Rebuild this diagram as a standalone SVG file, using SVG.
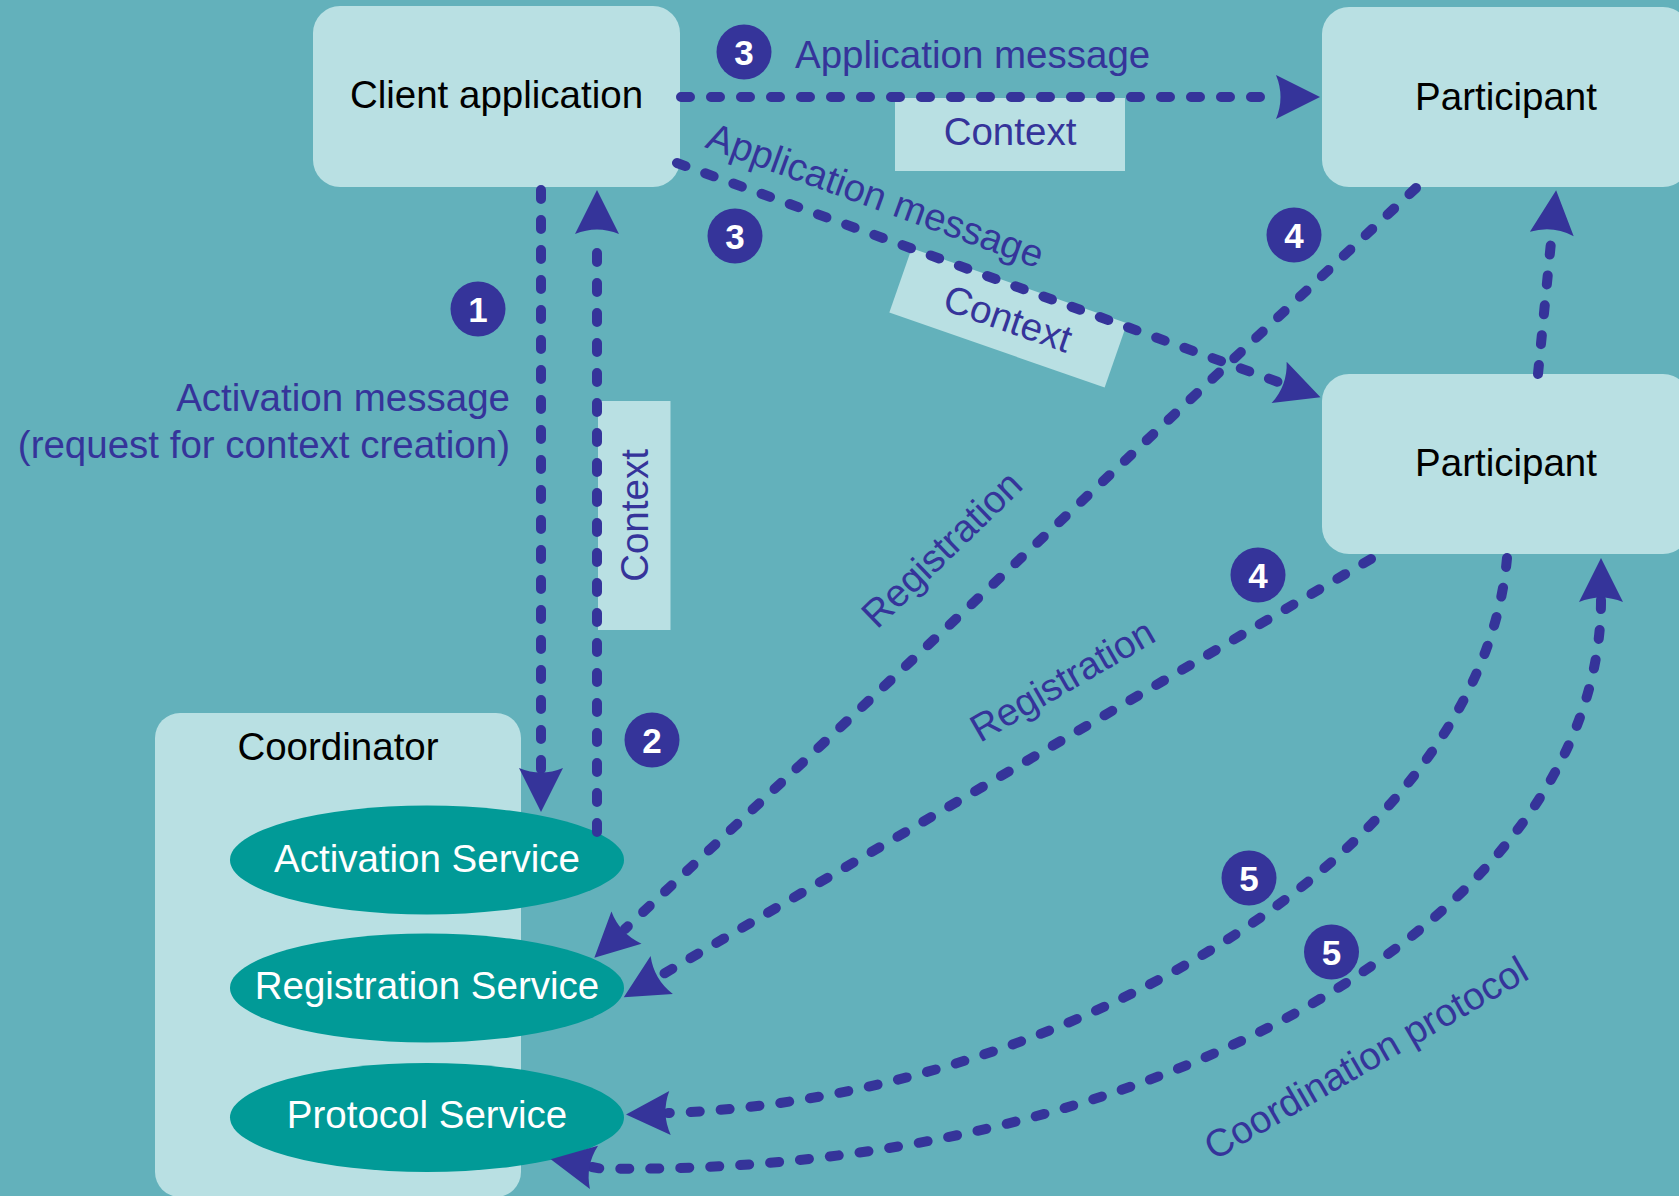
<svg xmlns="http://www.w3.org/2000/svg" width="1679" height="1196" viewBox="0 0 1679 1196">
<style>
.box{fill:#B9E0E3;}
.svc{fill:#019A97;}
.node{font-family:"Liberation Sans",Arial,sans-serif;font-size:38.5px;fill:#000;}
.svct{font-family:"Liberation Sans",Arial,sans-serif;font-size:38.5px;fill:#fff;text-anchor:middle;}
.lbl{font-family:"Liberation Sans",Arial,sans-serif;font-size:38.5px;fill:#35349A;}
.conn{fill:none;stroke:#35349A;stroke-width:10;stroke-linecap:round;stroke-dasharray:9 21;}
.badge circle{fill:#35349A;}
.badge text{font-family:"Liberation Sans",Arial,sans-serif;font-size:35px;font-weight:bold;fill:#fff;text-anchor:middle;}
</style>
<defs>
<marker id="ah" markerUnits="userSpaceOnUse" markerWidth="60" markerHeight="60" viewBox="-5 -30 60 60" refX="2" refY="0" orient="auto-start-reverse" overflow="visible">
<path d="M44,0 L0,-22 Q9,0 0,22 Z" fill="#35349A"/>
</marker>
</defs>
<rect x="0" y="0" width="1679" height="1196" fill="#63B1BB"/>

<g id="client">
<rect class="box" x="313" y="6" width="367" height="181" rx="27"/>
<text class="node" x="496.5" y="108" text-anchor="middle">Client application</text>
</g>
<g id="participant1">
<rect class="box" x="1322" y="7" width="368" height="180" rx="27"/>
<text class="node" x="1506" y="110" text-anchor="middle">Participant</text>
</g>
<g id="participant2">
<rect class="box" x="1322" y="374" width="368" height="180" rx="27"/>
<text class="node" x="1506" y="476" text-anchor="middle">Participant</text>
</g>
<g id="coordinator">
<rect class="box" x="155" y="713" width="366" height="484" rx="25"/>
<text class="node" x="338" y="760" text-anchor="middle">Coordinator</text>
</g>
<g id="activation-service">
<ellipse class="svc" cx="427" cy="860" rx="197" ry="54.5"/>
<text class="svct" x="427" y="872">Activation Service</text>
</g>
<g id="registration-service">
<ellipse class="svc" cx="427" cy="988" rx="197" ry="54.5"/>
<text class="svct" x="427" y="999">Registration Service</text>
</g>
<g id="protocol-service">
<ellipse class="svc" cx="427" cy="1117.5" rx="197" ry="54.5"/>
<text class="svct" x="427" y="1128">Protocol Service</text>
</g>

<g id="context-labels">
<rect class="box" x="895" y="98" width="230" height="73"/>
<text class="lbl" x="1010" y="145" text-anchor="middle">Context</text>
<g transform="translate(911.7,248.3) rotate(19.2)">
<rect class="box" x="0" y="0" width="228" height="68"/>
<text class="lbl" x="114" y="48" text-anchor="middle">Context</text>
</g>
<rect class="box" x="598" y="401" width="72.5" height="229"/>
<text class="lbl" transform="translate(647.5,515.5) rotate(-90)" text-anchor="middle">Context</text>
</g>

<g id="connectors">
<path class="conn" d="M681,97 H1278" marker-end="url(#ah)"/>
<path class="conn" d="M677,163 L1281,383" marker-end="url(#ah)"/>
<path class="conn" d="M541,190 V770" marker-end="url(#ah)"/>
<path class="conn" d="M597,832 V232" marker-end="url(#ah)"/>
<path class="conn" d="M1538,374 L1552,232" marker-end="url(#ah)"/>
<path class="conn" d="M1416,188 L625,929" marker-end="url(#ah)"/>
<path class="conn" d="M1371,559 L660,976" marker-end="url(#ah)"/>
<path class="conn" d="M1507,558 C1480,860 1050,1100 668,1113" marker-end="url(#ah)"/>
<path class="conn" d="M1601,600 C1601,917 1150,1178 600,1168.5 L592,1167" marker-start="url(#ah)" marker-end="url(#ah)"/>
</g>

<g id="connector-labels">
<text class="lbl" x="795" y="68">Application message</text>
<text class="lbl" transform="translate(704,147) rotate(20)">Application message</text>
<text class="lbl" x="510" y="411" text-anchor="end">Activation message</text>
<text class="lbl" x="510" y="458" text-anchor="end">(request for context creation)</text>
<text class="lbl" transform="translate(877,630) rotate(-44)">Registration</text>
<text class="lbl" transform="translate(980,743) rotate(-30)">Registration</text>
<text class="lbl" transform="translate(1214,1161) rotate(-30)">Coordination protocol</text>
</g>

<g id="badges" class="badge">
<g id="b1"><circle cx="478" cy="309" r="27.5"/><text x="478" y="321.5">1</text></g>
<g id="b2"><circle cx="652" cy="740" r="27.5"/><text x="652" y="752.5">2</text></g>
<g id="b3a"><circle cx="744" cy="52" r="27.5"/><text x="744" y="64.5">3</text></g>
<g id="b3b"><circle cx="735" cy="236" r="27.5"/><text x="735" y="248.5">3</text></g>
<g id="b4a"><circle cx="1294" cy="235" r="27.5"/><text x="1294" y="247.5">4</text></g>
<g id="b4b"><circle cx="1258" cy="575" r="27.5"/><text x="1258" y="587.5">4</text></g>
<g id="b5a"><circle cx="1249" cy="878" r="27.5"/><text x="1249" y="890.5">5</text></g>
<g id="b5b"><circle cx="1331.5" cy="952" r="27.5"/><text x="1331.5" y="964.5">5</text></g>
</g>
</svg>
